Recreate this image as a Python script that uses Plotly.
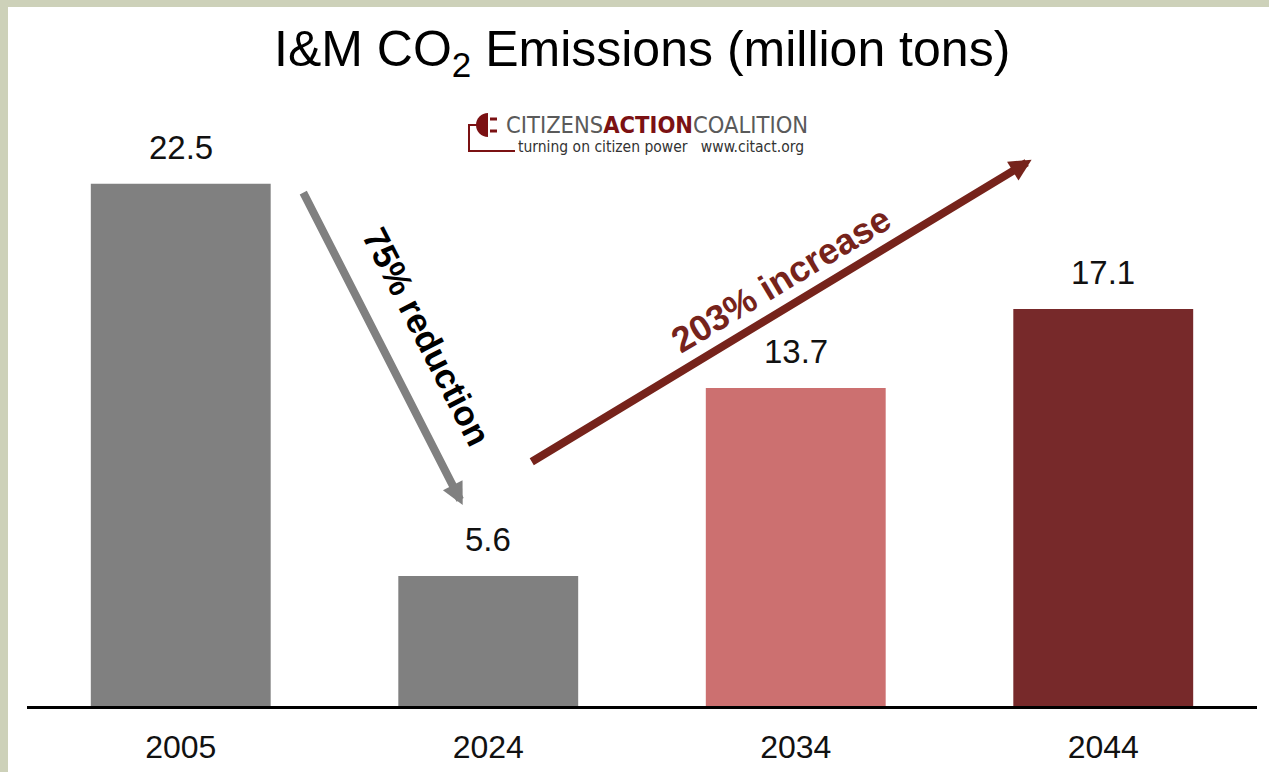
import plotly.graph_objects as go

# data
years = ["2005", "2024", "2034", "2044"]
emissions = [22.5, 5.6, 13.7, 17.1]
bar_colors = ["#808080", "#808080", "#cc7070", "#77292a"]
positions = [0, 1, 2, 3]

W, H = 1269, 772
L, R, T, B = 27, 12, 78, 66
y_max = 27.05


def px(x):
    # pixel -> paper x
    return (x - L) / (W - L - R)


def py(y):
    # pixel -> paper y
    return (H - B - y) / (H - T - B)


fig = go.Figure()

fig.add_trace(go.Bar(
    x=positions,
    y=emissions,
    marker=dict(color=bar_colors, line=dict(width=0)),
    width=0.585,
    hoverinfo="skip",
))

annotations = []

# value labels
for xp, v in zip(positions, emissions):
    annotations.append(dict(
        x=xp, y=v, xref="x", yref="y", text=f"{v}",
        showarrow=False, yanchor="bottom", yshift=16,
        font=dict(family="Liberation Sans, Arial", size=33, color="#111111"),
    ))

# reduction arrow and text
annotations.append(dict(
    x=0.917, y=8.66, ax=0.3935, ay=22.24, xref="x", yref="y", axref="x", ayref="y",
    text=" ", showarrow=True, arrowhead=2, arrowsize=0.55, arrowwidth=8, arrowcolor="#808080",
    font=dict(size=2),
))
annotations.append(dict(
    x=0.80, y=15.9, xref="x", yref="y", text="<b>75% reduction</b>", showarrow=False,
    textangle=63, font=dict(family="Liberation Sans, Arial", size=35, color="#000000"),
))

# increase arrow and text
annotations.append(dict(
    x=2.767, y=23.53, ax=1.135, ay=10.47, xref="x", yref="y", axref="x", ayref="y",
    text=" ", showarrow=True, arrowhead=2, arrowsize=0.55, arrowwidth=8, arrowcolor="#76231b",
    font=dict(size=2),
))
annotations.append(dict(
    x=1.951, y=18.36, xref="x", yref="y", text="<b>203% increase</b>", showarrow=False,
    textangle=-31, font=dict(family="Liberation Sans, Arial", size=36, color="#76231b"),
))

# title
annotations.append(dict(
    x=0.5, y=py(53), xref="paper", yref="paper",
    text="I&M CO<sub>2</sub> Emissions (million tons)", showarrow=False,
    yanchor="middle", font=dict(family="Liberation Sans, Arial", size=50, color="#000000"),
))

# logo text
annotations.append(dict(
    x=px(504), y=py(125), xref="paper", yref="paper", xanchor="left", yanchor="middle",
    text="CITIZENS<b><span style='color:#7b1113'>ACTION</span></b>COALITION",
    showarrow=False,
    font=dict(family="Liberation Sans Narrow, DejaVu Sans Condensed, Liberation Sans", size=23.5, color="#5a5a5a"),
))
annotations.append(dict(
    x=px(516), y=py(147), xref="paper", yref="paper", xanchor="left", yanchor="middle",
    text="turning on citizen power&nbsp;&nbsp;&nbsp;www.citact.org",
    showarrow=False,
    font=dict(family="Liberation Sans Narrow, DejaVu Sans Condensed, Liberation Sans", size=15.5, color="#333333"),
))

# logo plug: half disk + prongs + cord
cx, cy, r, k = 488, 125, 12, 0.5523
plug_path = (
    f"M {px(cx)},{py(cy - r)} "
    f"C {px(cx - k * r)},{py(cy - r)} {px(cx - r)},{py(cy - k * r)} {px(cx - r)},{py(cy)} "
    f"C {px(cx - r)},{py(cy + k * r)} {px(cx - k * r)},{py(cy + r)} {px(cx)},{py(cy + r)} Z"
)
shapes = [
    # white page over the olive frame
    dict(type="rect", xref="paper", yref="paper", x0=px(8), x1=px(W + 5), y0=py(7), y1=py(H + 5),
         fillcolor="#ffffff", line=dict(width=0), layer="below"),
    dict(type="path", xref="paper", yref="paper", path=plug_path,
         fillcolor="#7b1113", line=dict(width=0)),
    dict(type="line", xref="paper", yref="paper", x0=px(490), x1=px(497), y0=py(119), y1=py(119),
         line=dict(color="#7b1113", width=3)),
    dict(type="line", xref="paper", yref="paper", x0=px(490), x1=px(497), y0=py(131), y1=py(131),
         line=dict(color="#7b1113", width=3)),
    dict(type="path", xref="paper", yref="paper",
         path=f"M {px(477)},{py(125)} L {px(469)},{py(125)} L {px(469)},{py(151)} L {px(515)},{py(151)}",
         line=dict(color="#7b1113", width=2)),
]

fig.update_layout(
    width=W, height=H,
    margin=dict(l=L, r=R, t=T, b=B),
    paper_bgcolor="#cdd1b9",
    plot_bgcolor="#ffffff",
    showlegend=False,
    annotations=annotations,
    shapes=shapes,
    xaxis=dict(
        range=[-0.5, 3.5], tickvals=positions, ticktext=years,
        showline=True, linecolor="#000000", linewidth=3,
        showgrid=False, zeroline=False, ticks="",
        ticklabelstandoff=11, automargin=False,
        tickfont=dict(family="Liberation Sans, Arial", size=32, color="#111111"),
        fixedrange=True,
    ),
    yaxis=dict(
        range=[0, y_max], visible=False, showgrid=False, zeroline=False, fixedrange=True,
    ),
)

# page without the default body margin, so the figure sits at the window corner
fig.write_html(
    "out.html",
    config={"displayModeBar": False},
    post_script="document.body.style.margin='0px';document.body.style.overflow='hidden';",
)
